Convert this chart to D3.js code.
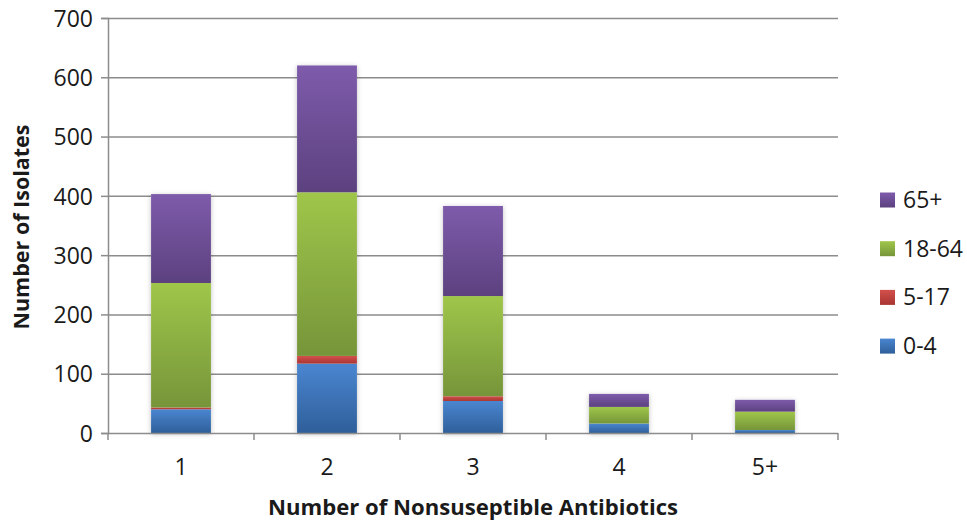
<!DOCTYPE html>
<html><head><meta charset="utf-8">
<script src="https://cdn.jsdelivr.net/npm/d3@7"></script>
<style>body{margin:0;background:#fff}svg{display:block}text{font-family:"Open Sans",Lato,sans-serif;fill:#1a1a1a}</style>
</head><body>
<svg id="c" width="967" height="522"></svg>
<script>
const categories = ["1","2","3","4","5+"];
const series = ["0-4","5-17","18-64","65+"];
const v0_4   = [40, 117, 54, 16, 5];
const v5_17  = [3, 13, 8, 0, 0];
const v18_64 = [210, 276, 169, 28, 31];
const v65    = [150, 214, 152, 22, 20];
const yTicks = [0,100,200,300,400,500,600,700];
const colors = {"0-4":["#4a86d0","#2f5f9a"],"5-17":["#d2504c","#a83532"],"18-64":["#9fc64a","#76953a"],"65+":["#7e5bab","#5c417f"]};

const svg = d3.select("#c");
const m = {l:108, r:838, t:18, b:433};
const x = d3.scaleBand().domain(categories).range([m.l,m.r]).paddingInner(0.59).paddingOuter(0.295);
const y = d3.scaleLinear().domain([0,700]).range([m.b,m.t]);

const defs = svg.append("defs");
series.forEach((s,i)=>{
  const g = defs.append("linearGradient").attr("id","g"+i).attr("x1",0).attr("y1",0).attr("x2",0).attr("y2",1);
  g.append("stop").attr("offset","0%").attr("stop-color",colors[s][0]);
  g.append("stop").attr("offset","100%").attr("stop-color",colors[s][1]);
});
const f = defs.append("filter").attr("id","sh").attr("x","-20%").attr("y","-20%").attr("width","140%").attr("height","140%");
f.append("feDropShadow").attr("dx",0).attr("dy",1).attr("stdDeviation",2.5).attr("flood-color","#000").attr("flood-opacity",0.25);

// gridlines
svg.append("g").selectAll("line").data(yTicks.slice(1)).join("line")
  .attr("x1",m.l).attr("x2",m.r).attr("y1",d=>y(d)+0.5).attr("y2",d=>y(d)+0.5)
  .attr("stroke","#8c8c8c").attr("stroke-width",1.5);

// y axis
const ya = svg.append("g").attr("transform",`translate(${m.l},0)`).call(d3.axisLeft(y).tickValues(yTicks).tickSize(7).tickPadding(8));
ya.select(".domain").attr("stroke","#8c8c8c").attr("stroke-width",1.5);
ya.selectAll(".tick line").attr("stroke","#8c8c8c").attr("stroke-width",1.5);
ya.selectAll("text").attr("font-size",23).style("fill","#1a1a1a").attr("dy","0.36em");

// stacked data
const data = categories.map((c,i)=>({cat:c,"0-4":v0_4[i],"5-17":v5_17[i],"18-64":v18_64[i],"65+":v65[i]}));
const stack = d3.stack().keys(series)(data);

const bars = svg.append("g");
categories.forEach((c,ci)=>{
  const top = stack[series.length-1][ci][1];
  bars.append("rect").attr("x",x(c)).attr("width",x.bandwidth()).attr("y",y(top)).attr("height",y(0)-y(top))
    .attr("fill","#fff").attr("filter","url(#sh)");
});
stack.forEach((layer,i)=>{
  bars.append("g").selectAll("rect").data(layer).join("rect")
    .attr("x",d=>x(d.data.cat)).attr("width",x.bandwidth())
    .attr("y",d=>y(d[1])).attr("height",d=>Math.max(0,y(d[0])-y(d[1])))
    .attr("fill","url(#g"+i+")");
});

// x axis
svg.append("line").attr("x1",m.l).attr("x2",m.r).attr("y1",m.b+0.5).attr("y2",m.b+0.5).attr("stroke","#8c8c8c").attr("stroke-width",1.5);
const bounds = categories.map(c=>x(c)-x.step()*x.paddingInner()/2);
bounds.push(m.r);
svg.append("g").selectAll("line").data(bounds).join("line")
  .attr("x1",d=>d).attr("x2",d=>d).attr("y1",m.b).attr("y2",m.b+7).attr("stroke","#8c8c8c").attr("stroke-width",1.5);
svg.append("g").selectAll("text").data(categories).join("text")
  .attr("x",d=>x(d)+x.bandwidth()/2).attr("y",475).attr("text-anchor","middle").attr("font-size",23).text(d=>d);

// titles
svg.append("text").attr("x",473).attr("y",515).attr("text-anchor","middle").attr("font-size",21).attr("font-weight","bold")
  .attr("textLength",410).attr("lengthAdjust","spacingAndGlyphs").text("Number of Nonsuseptible Antibiotics");
svg.append("text").attr("transform","translate(29,227) rotate(-90)").attr("text-anchor","middle").attr("font-size",21).attr("font-weight","bold")
  .attr("textLength",205).attr("lengthAdjust","spacingAndGlyphs").text("Number of Isolates");

// legend
const leg = series.slice().reverse();
const lg = svg.append("g").selectAll("g").data(leg).join("g").attr("transform",(d,i)=>`translate(880,${200+i*48.7})`);
lg.append("rect").attr("x",0).attr("y",-7.5).attr("width",15).attr("height",15).attr("fill",d=>"url(#g"+series.indexOf(d)+")");
lg.append("text").attr("x",23).attr("y",8).attr("font-size",23).text(d=>d);
</script>
</body></html>
